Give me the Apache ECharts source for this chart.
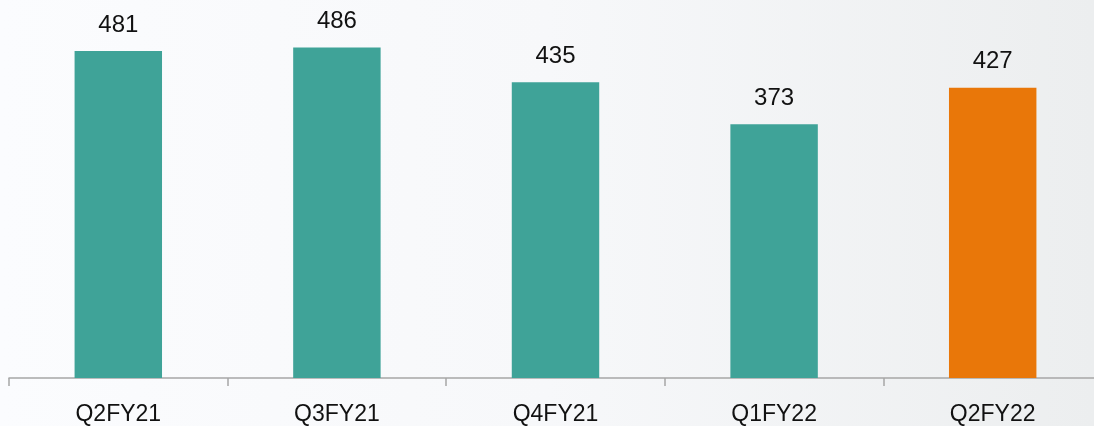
<!DOCTYPE html>
<html>
<head>
<meta charset="utf-8">
<script src="https://cdn.jsdelivr.net/npm/echarts@6/dist/echarts.min.js"></script>
<style>
	html, body { margin: 0; padding: 0; }
	#main { width: 1094px; height: 426px; }
</style>
</head>
<body>
<div id="main"></div>
<script>
	// 季度数据
	var quarters = ['Q2FY21', 'Q3FY21', 'Q4FY21', 'Q1FY22', 'Q2FY22'];
	var values = [481, 486, 435, 373, 427];
	var barColors = ['#3fa398', '#3fa398', '#3fa398', '#3fa398', '#e97709'];

	var buildData = function(){
		var result = [];
		for(var i = 0, j = values.length; i < j; i++){
			result.push({
				value: values[i],
				itemStyle: { color: barColors[i] }
			});
		}
		return result;
	}

	var myChart = echarts.init(document.getElementById('main'));
	myChart.setOption({
		backgroundColor: {
			type: 'linear', x: 0, y: 0, x2: 1, y2: 0,
			colorStops: [
				{ offset: 0, color: '#fbfcfe' },
				{ offset: 0.5, color: '#f7f8fa' },
				{ offset: 1, color: '#eceeef' }
			]
		},
		animation: false,
		grid: {
			left: 9,
			width: 1093,
			top: 38,
			height: 340,
			containLabel: false,
			outerBoundsMode: 'none'
		},
		xAxis: {
			type: 'category',
			data: quarters,
			axisLine: { lineStyle: { color: '#a6a6a6', width: 1.5 } },
			axisTick: { show: true, alignWithLabel: false, length: 8, lineStyle: { color: '#a6a6a6', width: 1.5 } },
			axisLabel: {
				color: '#111',
				fontSize: 23,
				fontFamily: 'Liberation Sans',
				margin: 25
			}
		},
		yAxis: {
			type: 'value',
			min: 0,
			max: 500,
			show: false,
			splitLine: { show: false }
		},
		series: [{
			type: 'bar',
			barWidth: '40%',
			data: buildData(),
			label: {
				show: true,
				position: 'top',
				distance: 14,
				color: '#111',
				fontSize: 24,
				fontFamily: 'Liberation Sans'
			}
		}]
	});
</script>
</body>
</html>
